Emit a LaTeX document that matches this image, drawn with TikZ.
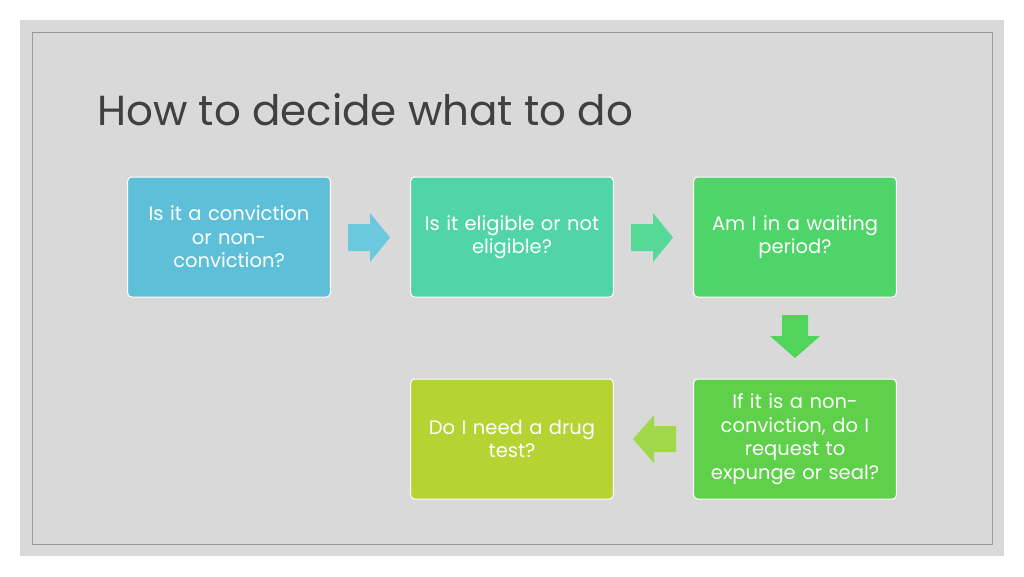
\documentclass[tikz,border=0pt]{standalone}
\usepackage{fontspec}
\setmainfont{Poppins}
\definecolor{c1}{RGB}{94,192,216}
\definecolor{c2}{RGB}{80,212,168}
\definecolor{c3}{RGB}{78,212,104}
\definecolor{c4}{RGB}{94,208,74}
\definecolor{c5}{RGB}{182,211,52}
\definecolor{a1}{RGB}{108,200,220}
\definecolor{a2}{RGB}{86,216,150}
\definecolor{a3}{RGB}{80,212,90}
\definecolor{a4}{RGB}{160,216,74}
\definecolor{slide}{RGB}{217,217,217}
\begin{document}
\begin{tikzpicture}[x=1pt,y=-1pt,
 box/.style={draw=white,line width=1pt,rounded corners=4pt,minimum width=202pt,minimum height=120pt,text width=196pt,align=center,text=white,font=\fontsize{19.5}{23.5}\selectfont}]
\useasboundingbox (0,0) rectangle (1024,576);
\fill[white] (0,0) rectangle (1024,576);
\fill[slide] (20,20) rectangle (1004,556);
\draw[gray!80,line width=0.8pt] (32,32) rectangle (992,544);
\node[anchor=west,font=\fontsize{42}{50}\selectfont,text=black!75,inner sep=0pt] (title) at (97,110) {How to decide what to do};
\node[box,fill=c1] (b1) at (229,237) {Is it a conviction\\or non-\\conviction?};
\node[box,fill=c2] (b2) at (512,237) {Is it eligible or not\\eligible?};
\node[box,fill=c3] (b3) at (795,237) {Am I in a waiting\\period?};
\node[box,fill=c4] (b4) at (795,439) {If it is a non-\\conviction, do I\\request to\\expunge or seal?};
\node[box,fill=c5] (b5) at (512,439) {Do I need a drug\\test?};
\fill[a1] (348,224) -- (370,224) -- (370,213) -- (390,237.5) -- (370,262) -- (370,251) -- (348,251) -- cycle;
\fill[a2] (631,224) -- (653,224) -- (653,213) -- (673,237.5) -- (653,262) -- (653,251) -- (631,251) -- cycle;
\fill[a3] (782,315) -- (808,315) -- (808,336) -- (820,336) -- (795,358) -- (770,336) -- (782,336) -- cycle;
\fill[a4] (676,426) -- (654,426) -- (654,415) -- (633,439) -- (654,463) -- (654,452) -- (676,452) -- cycle;
\end{tikzpicture}
\end{document}
